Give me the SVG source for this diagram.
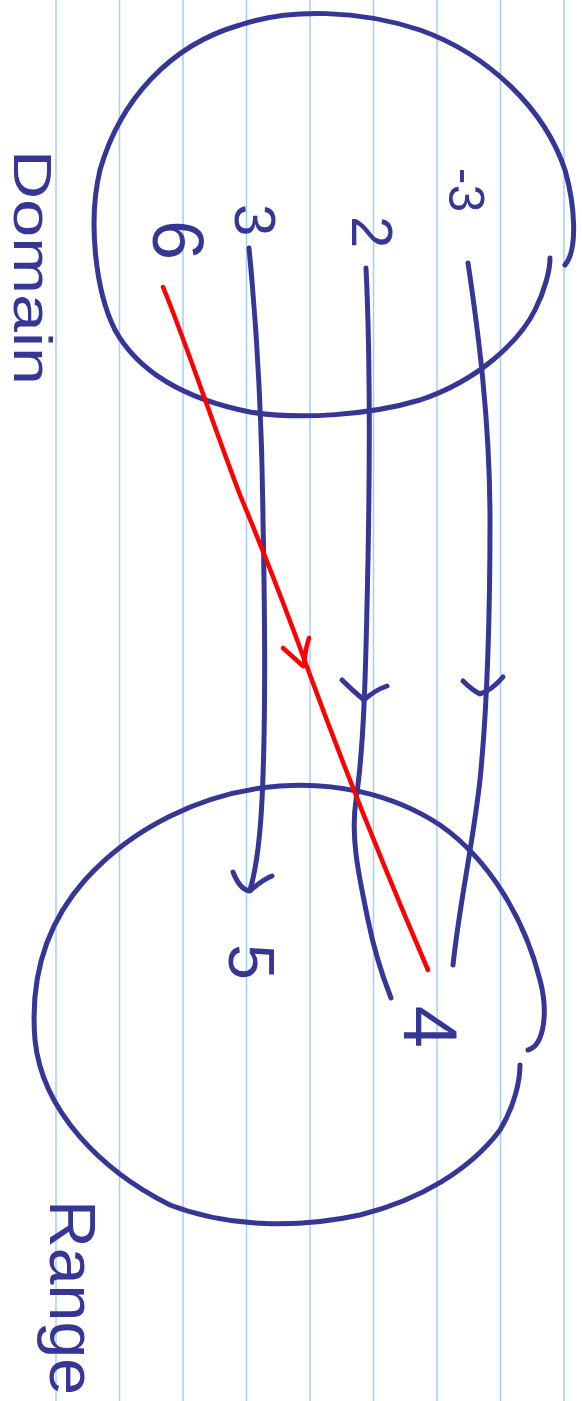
<svg xmlns="http://www.w3.org/2000/svg" width="582" height="1401" viewBox="0 0 582 1401">
<style>
.rule{stroke:#a6cdf8;stroke-width:1.5;fill:none}
.ink{stroke:#363697;stroke-width:5;fill:none;stroke-linecap:round;stroke-linejoin:round}
.red{stroke:#ff0000;stroke-width:4.5;fill:none;stroke-linecap:round;stroke-linejoin:round}
.hand{font-family:"Liberation Sans",Arial,sans-serif;fill:#363697}
</style>
<rect width="582" height="1401" fill="#ffffff"/>
<g id="rules">
<line class="rule" x1="56" y1="0" x2="56" y2="1401"/>
<line class="rule" x1="119.5" y1="0" x2="119.5" y2="1401"/>
<line class="rule" x1="183" y1="0" x2="183" y2="1401"/>
<line class="rule" x1="246.5" y1="0" x2="246.5" y2="1401"/>
<line class="rule" x1="310" y1="0" x2="310" y2="1401"/>
<line class="rule" x1="373.5" y1="0" x2="373.5" y2="1401"/>
<line class="rule" x1="437" y1="0" x2="437" y2="1401"/>
<line class="rule" x1="500.5" y1="0" x2="500.5" y2="1401"/>
<line class="rule" x1="564" y1="0" x2="564" y2="1401"/>
</g>
<g id="domain">
<path class="ink" d="M565,265 C578,250 575,205 565,170 C545,110 490,55 420,30 C360,10 290,8 240,25 C170,45 120,100 100,170 C88,220 95,290 115,330 C140,375 190,400 250,412 C300,420 370,415 420,400 C480,380 520,340 535,310 C545,290 550,270 550,258"/>
<text class="hand" font-size="54" transform="translate(14,150) rotate(90)" textLength="235" lengthAdjust="spacingAndGlyphs">Domain</text>
<text class="hand" font-size="72" text-anchor="middle" dominant-baseline="central" transform="translate(178,240) rotate(90)">6</text>
<text class="hand" font-size="58" text-anchor="middle" dominant-baseline="central" transform="translate(255,220) rotate(90)">3</text>
<text class="hand" font-size="58" text-anchor="middle" dominant-baseline="central" transform="translate(372,232) rotate(90)">2</text>
<text class="hand" font-size="50" text-anchor="middle" dominant-baseline="central" transform="translate(466,190) rotate(90)">-3</text>
</g>
<g id="range">
<path class="ink" d="M528,1050 C545,1045 548,1010 540,980 C525,920 490,860 440,825 C390,792 330,782 280,786 C200,792 130,830 85,880 C45,925 30,980 35,1040 C42,1110 100,1170 170,1205 C230,1228 300,1228 360,1215 C420,1200 470,1170 500,1130 C515,1105 520,1080 520,1065"/>
<text class="hand" font-size="64" transform="translate(50,1200) rotate(90)" textLength="195" lengthAdjust="spacingAndGlyphs">Range</text>
<text class="hand" font-size="64" text-anchor="middle" dominant-baseline="central" transform="translate(251,962) rotate(90)">5</text>
<text class="hand" font-size="76" text-anchor="middle" dominant-baseline="central" transform="translate(430,1027) rotate(90)">4</text>
</g>
<g id="connectors">
<path class="ink" d="M468,263 C478,330 490,420 490,520 C490,620 488,700 480,780 C472,850 460,900 453,965"/>
<path class="ink" d="M463,681 Q472,690 480,694 Q492,690 503,677"/>
<path class="ink" d="M366,268 C370,350 370,450 368,560 C366,650 365,740 356,800 C350,840 360,880 368,920 C374,950 382,975 391,998"/>
<path class="ink" d="M342,680 Q352,690 364,700 Q375,690 387,686"/>
<path class="ink" d="M249,248 C256,320 262,420 263,520 C265,620 266,720 262,800 C260,840 256,870 250,890"/>
<path class="ink" d="M233,872 Q240,890 250,891 Q262,880 272,876"/>
<path class="red" d="M163,287 C185,340 215,430 240,495 C265,555 290,620 310,675 C345,770 385,870 428,970"/>
<path class="red" d="M283,648 L303,666 M309,638 Q305,650 304,666"/>
</g>
</svg>
